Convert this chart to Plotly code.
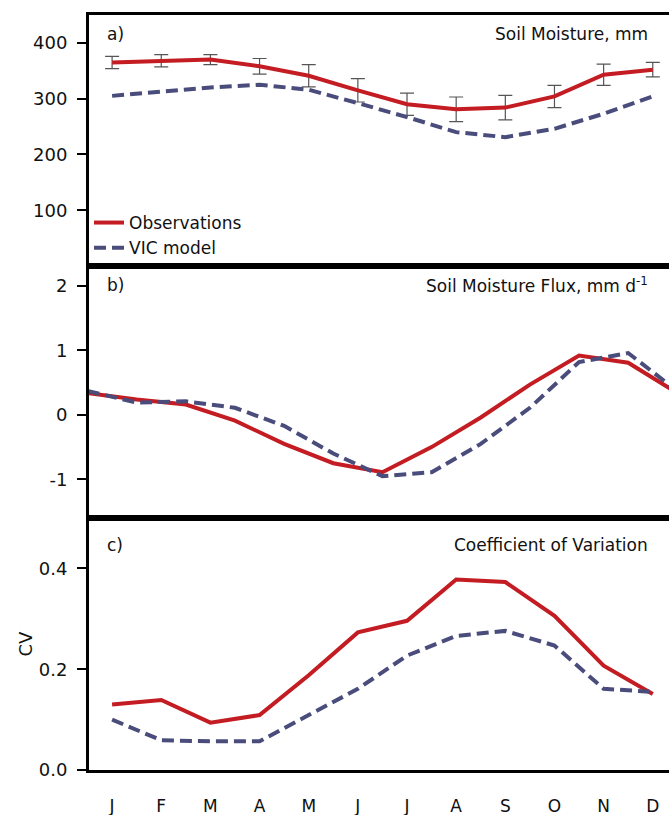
import plotly.graph_objects as go
from plotly.subplots import make_subplots

months = list(range(1, 13))
month_labels = ["J", "F", "M", "A", "M", "J", "J", "A", "S", "O", "N", "D"]

# Panel a: soil moisture (mm)
sm_obs = [365, 368, 370, 358, 341, 315, 290, 281, 284, 304, 343, 352]
sm_obs_err = [11, 11, 9, 14, 20, 21, 20, 22, 22, 20, 19, 13]
sm_vic = [305, 313, 320, 325, 316, 292, 267, 240, 231, 246, 273, 304]

# Panel b: soil moisture flux (mm/day), plotted at month boundaries
flux_x = [0.5, 1.5, 2.5, 3.5, 4.5, 5.5, 6.5, 7.5, 8.5, 9.5, 10.5, 11.5, 12.5]
flux_obs = [0.34, 0.24, 0.16, -0.09, -0.45, -0.75, -0.89, -0.50, -0.04, 0.47, 0.92, 0.81, 0.34]
flux_vic = [0.37, 0.19, 0.21, 0.11, -0.17, -0.60, -0.95, -0.89, -0.45, 0.11, 0.82, 0.96, 0.37]

# Panel c: coefficient of variation
cv_obs = [0.130, 0.139, 0.094, 0.109, 0.188, 0.273, 0.296, 0.378, 0.373, 0.306, 0.207, 0.151]
cv_vic = [0.100, 0.059, 0.057, 0.057, 0.109, 0.161, 0.227, 0.266, 0.276, 0.247, 0.161, 0.155]

# Tick labels
a_ticks = [100, 200, 300, 400]
b_ticks = [-1, 0, 1, 2]
b_ticktext = ["-1", "0", "1", "2"]
c_ticks = [0.0, 0.2, 0.4]

RED = "#c31c22"
BLUE = "#4a4c7c"
FONT = "DejaVu Sans"
DASH = "12px,6px"

fig = make_subplots(rows=3, cols=1, shared_xaxes=True, vertical_spacing=0)

fig.add_trace(go.Scatter(x=months, y=sm_obs, mode="lines", name="Observations",
                         line=dict(color=RED, width=4),
                         error_y=dict(type="data", array=sm_obs_err, visible=True,
                                      color="#555555", thickness=1.2, width=7)),
              row=1, col=1)
fig.add_trace(go.Scatter(x=months, y=sm_vic, mode="lines", name="VIC model",
                         line=dict(color=BLUE, width=4, dash=DASH)), row=1, col=1)

fig.add_trace(go.Scatter(x=flux_x, y=flux_obs, mode="lines", showlegend=False,
                         line=dict(color=RED, width=4)), row=2, col=1)
fig.add_trace(go.Scatter(x=flux_x, y=flux_vic, mode="lines", showlegend=False,
                         line=dict(color=BLUE, width=4, dash=DASH)), row=2, col=1)

fig.add_trace(go.Scatter(x=months, y=cv_obs, mode="lines", showlegend=False,
                         line=dict(color=RED, width=4)), row=3, col=1)
fig.add_trace(go.Scatter(x=months, y=cv_vic, mode="lines", showlegend=False,
                         line=dict(color=BLUE, width=4, dash=DASH)), row=3, col=1)

H = 815
top, bot = 15, 770
ph = bot - top
def frac(p):
    return (bot - p) / ph

doms = [[frac(266), 1.0], [frac(518), frac(266)], [0.0, frac(518)]]

xcommon = dict(range=[0.53, 12.33], showline=True, linewidth=3, linecolor="black",
               mirror=True, showgrid=False, zeroline=False, ticks="",
               tickvals=months, ticktext=month_labels)
for i in range(3):
    key = "xaxis" if i == 0 else f"xaxis{i+1}"
    d = dict(xcommon)
    d["showticklabels"] = (i == 2)
    fig.layout[key].update(**d)
fig.layout.xaxis3.update(tickfont=dict(family=FONT, size=17, color="#111"),
                         ticklabelstandoff=19)

ycommon = dict(showline=True, linewidth=3, linecolor="black", mirror=False,
               showgrid=False, zeroline=False, ticks="outside", ticklen=9,
               tickwidth=1.5, tickcolor="black",
               tickfont=dict(family=FONT, size=18, color="#111"),
               ticklabelstandoff=6)
fig.layout.yaxis.update(**ycommon, domain=doms[0], range=[0, 450],
                        tickvals=a_ticks)
fig.layout.yaxis2.update(**ycommon, domain=doms[1], range=[-1.6, 2.31],
                         tickvals=b_ticks, ticktext=b_ticktext)
fig.layout.yaxis3.update(**ycommon, domain=doms[2], range=[0, 0.5],
                         tickvals=c_ticks, tickformat=".1f",
                         title=dict(text="CV", standoff=2,
                                    font=dict(family=FONT, size=18, color="#111")))

annots = []
panel_info = [("a)", "Soil Moisture, mm", "", 19),
              ("b)", "Soil Moisture Flux, mm d<sup>-1</sup>", "2", 19),
              ("c)", "Coefficient of Variation", "3", 27)]
for lab, title, suf, off in panel_info:
    dh = (doms[0][1] - doms[0][0]) * ph
    yy = 1 - off / dh
    annots.append(dict(text=lab, xref=f"x{suf} domain", yref=f"y{suf} domain",
                       x=0.028, y=yy, xanchor="left", yanchor="middle",
                       showarrow=False, font=dict(family=FONT, size=17, color="#111")))
    annots.append(dict(text=title, xref=f"x{suf} domain", yref=f"y{suf} domain",
                       x=0.967, y=yy, xanchor="right", yanchor="middle",
                       showarrow=False, font=dict(family=FONT, size=17, color="#111")))

fig.update_layout(
    width=669, height=H,
    margin=dict(l=89, r=0, t=top, b=H - bot),
    paper_bgcolor="white", plot_bgcolor="white",
    annotations=annots,
    legend=dict(x=0.0, y=doms[0][0], xanchor="left", yanchor="bottom",
                bgcolor="rgba(0,0,0,0)", font=dict(family=FONT, size=17, color="#111"),
                tracegroupgap=0, itemwidth=30),
    showlegend=True,
)

fig.write_html("out.html")
